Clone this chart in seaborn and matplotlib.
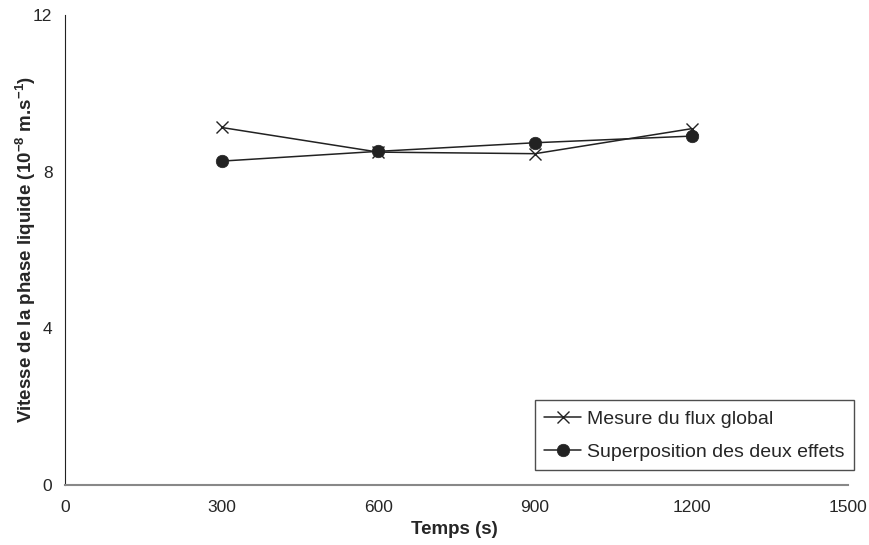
import matplotlib
matplotlib.use("Agg")
import matplotlib.pyplot as plt
import seaborn as sns

# data
temps = [300, 600, 900, 1200]
flux_global = [9.13, 8.50, 8.46, 9.10]
superposition = [8.27, 8.52, 8.74, 8.91]
labels = ['Mesure du flux global', 'Superposition des deux effets']

sns.set_style("white")
plt.rcParams['font.family'] = ['Liberation Sans', 'DejaVu Sans']
plt.rcParams['mathtext.fontset'] = 'custom'
plt.rcParams['mathtext.rm'] = 'Liberation Sans'
plt.rcParams['mathtext.bf'] = 'Liberation Sans:bold'

fig = plt.figure(figsize=(8.7, 5.45), dpi=100)
ax = fig.add_axes([0.0747, 0.111, 0.9005, 0.861])

sns.lineplot(x=temps, y=flux_global, color='#222222', marker='x', markersize=8.5,
             markeredgecolor='#222222', markeredgewidth=1.0, linewidth=1.1,
             label=labels[0], ax=ax)
sns.lineplot(x=temps, y=superposition, color='#222222', marker='o', markersize=9,
             markeredgecolor='#222222', markeredgewidth=0.5, linewidth=1.1,
             label=labels[1], ax=ax)

ax.set_xlim(0, 1500)
ax.set_ylim(0, 12)
ax.set_xticks([0, 300, 600, 900, 1200, 1500])
ax.set_yticks([0, 4, 8, 12])
ax.tick_params(axis='y', direction='out', length=5, width=0.8, labelsize=12.5, pad=4)
ax.tick_params(axis='x', direction='in', length=5, width=0.8, labelsize=12.5, pad=11)

for side in ['top', 'right']:
    ax.spines[side].set_visible(False)
ax.spines['left'].set_color('#222222')
ax.spines['bottom'].set_color('#888888')
ax.spines['bottom'].set_linewidth(1.5)

ax.set_xlabel('Temps (s)', fontsize=13.5, fontweight='bold')
ax.set_ylabel(r'Vitesse de la phase liquide (10$^{\mathbf{-8}}$ m.s$^{\mathbf{-1}}$)',
              fontsize=13.5, fontweight='bold')
ax.xaxis.set_label_coords(0.497, -0.077)
ax.yaxis.set_label_coords(-0.035, 0.5)

leg = ax.legend(loc='lower right', bbox_to_anchor=(1.0075, 0.03), fontsize=14,
                frameon=True, fancybox=False, edgecolor='#222222',
                handlelength=1.9, handletextpad=0.3, borderpad=0.5,
                labelspacing=0.8, borderaxespad=0)
leg.get_frame().set_linewidth(1.0)

fig.savefig('out.png', dpi=100)
